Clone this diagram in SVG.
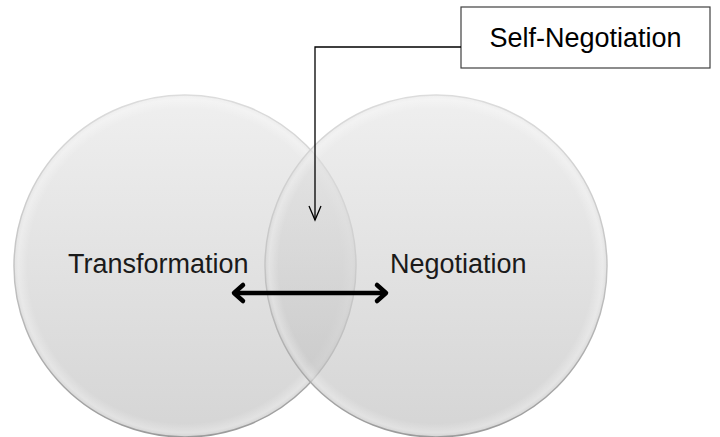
<svg xmlns="http://www.w3.org/2000/svg" width="720" height="437" viewBox="0 0 720 437">
<style>
.circ{stroke:url(#sg);stroke-width:1.5}
.lbl{font-family:"Liberation Sans",Arial,sans-serif;font-size:27px;fill:#1a1a1a}
.box{fill:#ffffff;stroke:#404040;stroke-width:1.2}
.lead{fill:none;stroke:#000;stroke-width:1.3}
.thick{fill:none;stroke:#000;stroke-width:4.5;stroke-linecap:round;stroke-linejoin:round}
</style>
<defs>
<linearGradient id="g" x1="0" y1="0" x2="0" y2="1">
<stop offset="0" stop-color="#e6e6e6"/>
<stop offset="1" stop-color="#bcbcbc"/>
</linearGradient>
<linearGradient id="sg" x1="0" y1="0" x2="0" y2="1">
<stop offset="0" stop-color="#dcdcdc"/>
<stop offset="0.5" stop-color="#c4c4c4"/>
<stop offset="1" stop-color="#9a9a9a"/>
</linearGradient>
<radialGradient id="rim" cx="0.5" cy="0.5" r="0.5">
<stop offset="0.92" stop-color="#ffffff" stop-opacity="0"/>
<stop offset="0.975" stop-color="#ffffff" stop-opacity="0.3"/>
<stop offset="1" stop-color="#ffffff" stop-opacity="0"/>
</radialGradient>
</defs>
<rect width="720" height="437" fill="#ffffff"/>
<g id="transformation">
<circle class="circ" cx="185" cy="266" r="171" fill="url(#g)" fill-opacity="0.63"/>
<circle cx="185" cy="266" r="171" fill="url(#rim)"/>
<text class="lbl" x="68" y="273">Transformation</text>
</g>
<g id="negotiation">
<circle class="circ" cx="436" cy="266" r="171" fill="url(#g)" fill-opacity="0.63"/>
<circle cx="436" cy="266" r="171" fill="url(#rim)"/>
<text class="lbl" x="390" y="273">Negotiation</text>
</g>
<g id="self-negotiation">
<rect class="box" x="461" y="7" width="249" height="61"/>
<text class="lbl" x="585.5" y="47" text-anchor="middle" style="fill:#000">Self-Negotiation</text>
</g>
<g id="connectors">
<path class="lead" d="M461,47 H315 V220"/>
<path class="lead" d="M309,206 L315,220 L321,206"/>
<path class="thick" d="M235,293 H385"/>
<path class="thick" d="M243,285 L234,293 L243,301"/>
<path class="thick" d="M377,285 L386,293 L377,301"/>
</g>
</svg>
